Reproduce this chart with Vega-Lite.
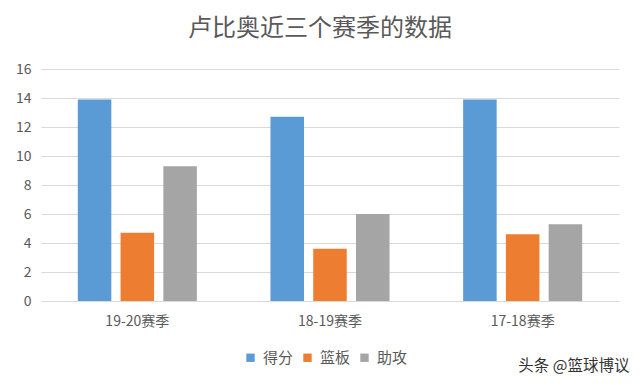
{
  "$schema": "https://vega.github.io/schema/vega-lite/v6.json",
  "width": 578,
  "height": 232,
  "autosize": "none",
  "padding": {"left": 41, "top": 69, "right": 21, "bottom": 84},
  "background": "white",
  "title": {
    "text": "卢比奥近三个赛季的数据",
    "fontSize": 24,
    "font": "Noto Sans CJK SC",
    "fontWeight": "normal",
    "color": "#595959",
    "anchor": "middle",
    "dx": -10,
    "offset": 21
  },
  "data": {
    "values": [
      {"season": "19-20赛季", "stat": "得分", "value": 13.9},
      {"season": "19-20赛季", "stat": "篮板", "value": 4.7},
      {"season": "19-20赛季", "stat": "助攻", "value": 9.3},
      {"season": "18-19赛季", "stat": "得分", "value": 12.7},
      {"season": "18-19赛季", "stat": "篮板", "value": 3.6},
      {"season": "18-19赛季", "stat": "助攻", "value": 6.0},
      {"season": "17-18赛季", "stat": "得分", "value": 13.9},
      {"season": "17-18赛季", "stat": "篮板", "value": 4.6},
      {"season": "17-18赛季", "stat": "助攻", "value": 5.3}
    ]
  },
  "mark": {"type": "bar"},
  "encoding": {
    "x": {
      "field": "season",
      "type": "nominal",
      "sort": ["19-20赛季", "18-19赛季", "17-18赛季"],
      "scale": {"paddingInner": 0.382, "paddingOuter": 0.191},
      "axis": {
        "title": "头条 @篮球博议",
        "titleFont": "Noto Sans CJK SC",
        "titleFontSize": 15.5,
        "titleFontWeight": "normal",
        "titleColor": "#333333",
        "titleAlign": "right",
        "titleAnchor": "end",
        "titleX": 588,
        "titleY": 69,
        "titleBaseline": "alphabetic",
        "labelAngle": 0,
        "labelFont": "Noto Sans CJK SC",
        "labelFontSize": 14,
        "labelColor": "#595959",
        "labelPadding": 13,
        "ticks": false,
        "domainColor": "#d9d9d9",
        "domainWidth": 1
      }
    },
    "xOffset": {
      "field": "stat",
      "type": "nominal",
      "sort": ["得分", "篮板", "助攻"],
      "scale": {"paddingInner": 0.216, "paddingOuter": 0}
    },
    "y": {
      "field": "value",
      "type": "quantitative",
      "scale": {"domain": [0, 16], "nice": false},
      "axis": {
        "title": null,
        "values": [0, 2, 4, 6, 8, 10, 12, 14, 16],
        "labelFont": "Noto Sans CJK SC",
        "labelFontSize": 14,
        "labelColor": "#595959",
        "labelPadding": 10,
        "ticks": false,
        "domain": false,
        "grid": true,
        "gridColor": "#d9d9d9",
        "gridWidth": 1
      }
    },
    "color": {
      "field": "stat",
      "type": "nominal",
      "sort": ["得分", "篮板", "助攻"],
      "scale": {"domain": ["得分", "篮板", "助攻"], "range": ["#5b9bd5", "#ed7d31", "#a5a5a5"]},
      "legend": {
        "title": null,
        "orient": "none",
        "direction": "horizontal",
        "legendX": 202,
        "legendY": 281,
        "symbolType": "square",
        "symbolSize": 70,
        "symbolStrokeWidth": 0,
        "labelFont": "Noto Sans CJK SC",
        "labelFontSize": 15,
        "labelColor": "#595959",
        "columnPadding": 6,
        "labelOffset": 5
      }
    }
  },
  "config": {
    "view": {"stroke": null}
  }
}
